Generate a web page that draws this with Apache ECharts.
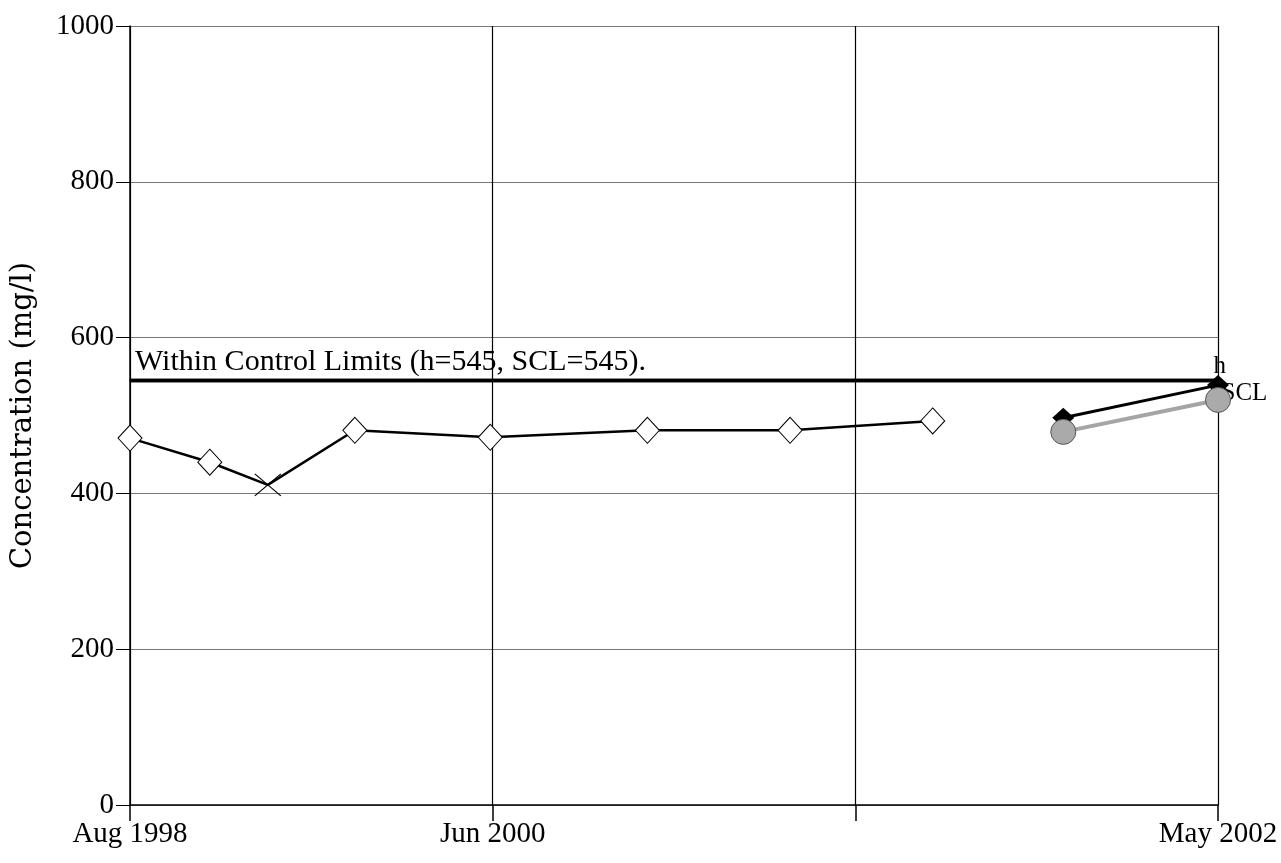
<!DOCTYPE html>
<html>
<head>
<meta charset="utf-8">
<script src="https://cdn.jsdelivr.net/npm/echarts@6/dist/echarts.min.js"></script>
<style>
  html, body { margin: 0; padding: 0; background: #fff; }
  #chart { width: 1281px; height: 863px; }
</style>
</head>
<body>
<div id="chart"></div>
<script>
const chart = echarts.init(document.getElementById("chart"));

const SERIF = "Liberation Serif";

// x positions on a 0..45 scale (axis has 3 equal intervals)
const sampleX = [0, 3.3, 5.7, 9.3, 14.9, 21.4, 27.3, 33.2];
const concentration = [471, 440, 411, 481, 472, 481, 481, 493];
const sampleSymbols = ["diamond", "diamond", "cross", "diamond", "diamond", "diamond", "diamond", "diamond"];

const recentX = [38.6, 45];
const hValues = [497, 539];
const sclValues = [479, 520];

const limitX = [0, 45];
const hLimit = 545;
const sclLimit = 545;

const xTickLabels = { 0: "Aug 1998", 15: "Jun 2000", 30: "", 45: "May 2002" };
const yTicks = [0, 200, 400, 600, 800, 1000];

const CROSS = "path://M0,0L20,20M20,0L0,20";

const mainData = sampleX.map((x, i) => ({
	value: [x, concentration[i]],
	symbol: sampleSymbols[i] === "cross" ? CROSS : "diamond",
	symbolSize: sampleSymbols[i] === "cross" ? [26, 22] : [24, 26],
	itemStyle: sampleSymbols[i] === "cross"
		? { color: "rgba(0,0,0,0)", borderColor: "#000", borderWidth: 1 }
		: { color: "#fff", borderColor: "#000", borderWidth: 1 }
}));

option = {
	backgroundColor: "#fff",
	animation: false,
	grid: { left: 130, right: 63, top: 26, bottom: 58, outerBoundsMode: "none" },
	xAxis: {
		type: "value",
		min: 0,
		max: 45,
		interval: 15,
		axisLine: { lineStyle: { color: "#000", width: 1.5 } },
		axisTick: { show: true, length: 16, lineStyle: { color: "#000", width: 1.5 } },
		axisLabel: {
			margin: 15,
			color: "#000",
			fontFamily: SERIF,
			fontSize: 29,
			formatter: v => xTickLabels[v] || ""
		},
		splitLine: { show: true, lineStyle: { color: "#000", width: 1.2 } }
	},
	yAxis: {
		type: "value",
		min: 0,
		max: 1000,
		interval: 200,
		name: "Concentration (mg/l)",
		nameLocation: "middle",
		nameGap: 92,
		nameTextStyle: { fontFamily: "DejaVu Serif", fontSize: 29, color: "#000" },
		axisLine: { show: true, lineStyle: { color: "#000", width: 1.5 } },
		axisTick: { show: true, length: 14, lineStyle: { color: "#000", width: 1 } },
		axisLabel: {
			margin: 16,
			color: "#000",
			fontFamily: SERIF,
			fontSize: 29,
			formatter: v => yTicks.includes(v) ? String(v) : ""
		},
		splitLine: { show: true, lineStyle: { color: "#777", width: 1 } }
	},
	series: [{
		name: "h limit",
		type: "line",
		data: limitX.map((x, i) => ({
			value: [x, hLimit],
			label: i === 0 ? {
				show: true,
				formatter: "Within Control Limits (h=" + hLimit + ", SCL=" + sclLimit + ").",
				position: "top",
				align: "left",
				distance: 3,
				offset: [5, 0],
				color: "#000",
				fontFamily: SERIF,
				fontSize: 30
			} : {
				show: true,
				formatter: "h",
				position: "right",
				offset: [-10, -14],
				color: "#000",
				fontFamily: SERIF,
				fontSize: 25
			}
		})),
		symbol: "circle",
		symbolSize: 1,
		showSymbol: true,
		itemStyle: { color: "#000" },
		lineStyle: { color: "#000", width: 3.5 },
		z: 2
	}, {
		name: "SCL limit",
		type: "line",
		data: limitX.map((x, i) => ({
			value: [x, sclLimit],
			label: i === 1 ? {
				show: true,
				formatter: "SCL",
				position: "right",
				offset: [-2, 13],
				color: "#000",
				fontFamily: SERIF,
				fontSize: 25
			} : { show: false }
		})),
		symbol: "circle",
		symbolSize: 1,
		itemStyle: { color: "#000" },
		lineStyle: { color: "#000", width: 3.5 },
		z: 2
	}, {
		name: "Concentration",
		type: "line",
		data: mainData,
		lineStyle: { color: "#000", width: 2.5 },
		z: 3
	}, {
		name: "h",
		type: "line",
		data: recentX.map((x, i) => [x, hValues[i]]),
		symbol: "diamond",
		symbolSize: [22, 20],
		itemStyle: { color: "#000" },
		lineStyle: { color: "#000", width: 3 },
		z: 4
	}, {
		name: "SCL",
		type: "line",
		data: recentX.map((x, i) => [x, sclValues[i]]),
		symbol: "circle",
		symbolSize: 25,
		itemStyle: { color: "#aaa", borderColor: "#555", borderWidth: 1 },
		lineStyle: { color: "#a5a5a5", width: 4 },
		z: 5
	}]
};

chart.setOption(option);
window.onresize = chart.resize;
</script>
</body>
</html>
